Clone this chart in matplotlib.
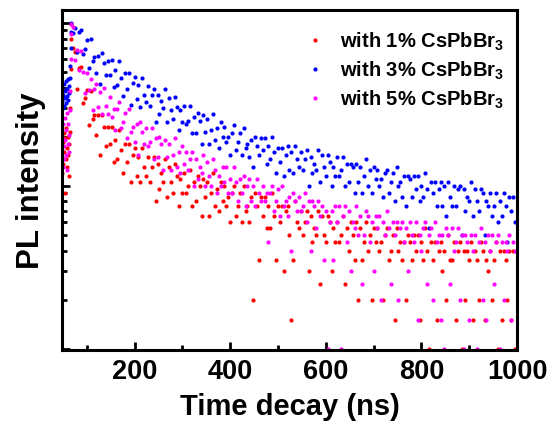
import numpy as np
import matplotlib
matplotlib.use("Agg")
import matplotlib.pyplot as plt
from matplotlib.ticker import MultipleLocator, LogLocator, NullFormatter

plt.rcParams['font.family'] = ['Liberation Sans', 'DejaVu Sans']
plt.rcParams['font.weight'] = 'bold'
plt.rcParams['mathtext.fontset'] = 'custom'
plt.rcParams['mathtext.bf'] = 'Liberation Sans:bold'
plt.rcParams['mathtext.rm'] = 'Liberation Sans:bold'
plt.rcParams['mathtext.default'] = 'bf'

# TCSPC channels: rising edge (1 ns) and decay (4 ns)
rise_ns = np.arange(48, 68, 1)
time_ns = np.arange(68, 1000, 4)

labels = ['with 1% CsPbBr$_3$', 'with 3% CsPbBr$_3$', 'with 5% CsPbBr$_3$']
colors = ['#FF0000', '#0000FF', '#FF00FF']

# counts (normalised to ~1000 at the peak)
red_rise = [150, 120, 185, 135, 210, 160, 90, 195, 145, 225,
            170, 130, 200, 155, 180, 115, 215, 300, 520, 800]
blue_rise = [330, 400, 300, 360, 420, 310, 380, 345, 440, 320,
             390, 355, 455, 335, 410, 370, 460, 545, 700, 880]
magenta_rise = [165, 200, 130, 240, 175, 145, 260, 190, 155, 220,
                125, 280, 180, 240, 160, 205, 290, 380, 600, 850]

red_decay = [
    985, 705, 665, 390, 525, 535, 320, 345, 385, 235,
    380, 255, 270, 205, 270, 155, 270, 230, 175, 230,
    180, 230, 140, 190, 145, 220, 165, 120, 180, 140,
    180, 105, 155, 170, 115, 150, 105, 170, 130, 115,
    150, 105, 130, 150, 80, 135, 95, 120, 105, 145,
    85, 130, 105, 90, 135, 115, 75, 110, 90, 120,
    90, 100, 125, 75, 105, 80, 115, 100, 65, 110,
    85, 105, 65, 90, 120, 75, 95, 70, 105, 80,
    100, 75, 85, 60, 90, 100, 65, 75, 90, 60,
    100, 70, 75, 60, 85, 20, 90, 75, 35, 85,
    65, 85, 55, 75, 55, 90, 65, 35, 75, 60,
    75, 30, 70, 75, 50, 15, 35, 80, 60, 55,
    70, 50, 60, 70, 30, 65, 45, 55, 50, 70,
    25, 65, 50, 45, 65, 60, 30, 55, 45, 60,
    45, 50, 65, 25, 55, 40, 60, 50, 35, 60,
    20, 55, 35, 45, 60, 40, 50, 20, 55, 45,
    55, 40, 45, 20, 50, 55, 35, 40, 50, 15,
    55, 40, 45, 35, 45, 20, 50, 45, 35, 50,
    40, 50, 15, 45, 35, 55, 40, 10, 45, 35,
    45, 15, 40, 45, 30, 40, 20, 50, 35, 35,
    45, 15, 40, 45, 10, 40, 20, 40, 35, 45,
    15, 40, 35, 20, 45, 40, 15, 35, 30, 40,
    20, 35, 45, 10, 40, 15, 40, 35, 20, 40,
    15, 40, 10]

blue_decay = [
    1000, 860, 930, 660, 880, 900, 640, 695, 780, 530,
    790, 585, 620, 495, 630, 420, 650, 570, 475, 585,
    475, 590, 405, 510, 415, 585, 460, 355, 495, 395,
    490, 315, 425, 465, 340, 415, 305, 460, 360, 325,
    410, 310, 360, 395, 245, 360, 275, 330, 300, 390,
    245, 345, 290, 255, 350, 305, 220, 290, 245, 310,
    240, 250, 310, 210, 265, 210, 280, 250, 180, 270,
    215, 255, 180, 220, 275, 190, 225, 170, 245, 200,
    230, 185, 200, 155, 210, 235, 165, 185, 210, 155,
    225, 170, 180, 150, 190, 130, 200, 175, 155, 195,
    165, 195, 135, 175, 145, 200, 160, 120, 170, 140,
    170, 115, 155, 175, 125, 160, 120, 175, 145, 130,
    160, 125, 145, 165, 100, 150, 120, 135, 125, 165,
    105, 155, 130, 115, 155, 140, 100, 130, 115, 150,
    115, 125, 150, 100, 135, 105, 135, 130, 90, 135,
    105, 130, 90, 115, 145, 100, 125, 90, 130, 110,
    125, 100, 110, 85, 120, 125, 90, 105, 120, 80,
    130, 100, 105, 85, 115, 75, 115, 110, 85, 115,
    95, 115, 80, 100, 85, 120, 95, 55, 105, 90,
    105, 75, 95, 105, 75, 100, 65, 105, 85, 75,
    100, 75, 95, 100, 50, 95, 70, 85, 80, 105,
    65, 95, 80, 70, 95, 90, 50, 80, 75, 90,
    65, 75, 90, 60, 80, 65, 90, 75, 45, 85,
    70, 85, 60]

magenta_decay = [
    990, 940, 590, 680, 510, 675, 500, 370, 490, 385,
    455, 290, 390, 420, 305, 375, 275, 400, 310, 275,
    350, 265, 295, 220, 295, 325, 225, 245, 280, 195,
    295, 215, 230, 185, 240, 155, 245, 215, 180, 225,
    175, 185, 225, 145, 195, 150, 200, 180, 125, 190,
    150, 180, 125, 155, 195, 130, 160, 120, 175, 135,
    160, 125, 145, 160, 100, 145, 110, 130, 120, 155,
    100, 140, 115, 100, 145, 125, 90, 115, 100, 130,
    105, 130, 90, 110, 90, 130, 105, 80, 110, 90,
    115, 75, 100, 110, 80, 100, 75, 110, 90, 80,
    100, 80, 90, 45, 90, 100, 70, 80, 95, 65,
    100, 75, 80, 65, 85, 40, 90, 80, 70, 85,
    70, 75, 90, 60, 80, 40, 80, 75, 55, 80,
    65, 75, 35, 70, 10, 60, 70, 35, 75, 60,
    75, 10, 65, 75, 45, 70, 30, 60, 55, 75,
    50, 65, 25, 50, 70, 65, 45, 60, 30, 65,
    55, 65, 20, 60, 50, 70, 55, 25, 60, 50,
    60, 20, 55, 60, 45, 55, 30, 60, 50, 45,
    60, 15, 50, 40, 55, 60, 25, 50, 55, 20,
    60, 45, 50, 15, 50, 10, 55, 50, 25, 55,
    40, 45, 55, 20, 50, 10, 50, 45, 15, 50,
    40, 50, 10, 45, 55, 20, 45, 15, 50, 40,
    50, 25, 45, 50, 10, 45, 20, 45, 40, 50,
    15, 45, 40]

series = [(red_rise, red_decay), (blue_rise, blue_decay),
          (magenta_rise, magenta_decay)]

fig = plt.figure(figsize=(5.53, 4.27), dpi=100)
ax = fig.add_axes([0.112, 0.179, 0.823, 0.795])

for (rise, decay), color, label in zip(series, colors, labels):
    t = np.concatenate([rise_ns, time_ns])
    counts = np.concatenate([rise, decay])
    ax.plot(t, counts, 'o', ms=3.0, mec='none', color=color, label=label)

ax.set_yscale('log')
ax.set_xlim(48, 1000)
ax.set_ylim(9.86, 1197)

ax.xaxis.set_major_locator(MultipleLocator(200))
ax.xaxis.set_minor_locator(MultipleLocator(100))
ax.yaxis.set_major_locator(LogLocator(base=10))
ax.yaxis.set_minor_locator(LogLocator(base=10, subs=np.arange(2, 10)))
ax.yaxis.set_major_formatter(NullFormatter())
ax.yaxis.set_minor_formatter(NullFormatter())

ax.tick_params(which='both', direction='in', top=False, right=False, width=2)
ax.tick_params(which='major', length=6)
ax.tick_params(which='minor', length=3.5)
ax.tick_params(axis='x', labelsize=19.5, pad=6)
for lab in ax.get_xticklabels():
    lab.set_fontweight('bold')
for sp in ax.spines.values():
    sp.set_linewidth(2.2)

ax.set_xlabel('Time decay (ns)', fontsize=21, fontweight='bold', labelpad=6)
ax.set_ylabel('PL intensity', fontsize=22.5, fontweight='bold', labelpad=8)

ax.legend(loc='upper right', bbox_to_anchor=(1.01, 0.995), frameon=False,
          prop={'size': 14.5, 'weight': 'bold'}, handlelength=0.8,
          handletextpad=0.8, labelspacing=0.33, markerscale=1.0)

fig.savefig('out.png', dpi=100)
